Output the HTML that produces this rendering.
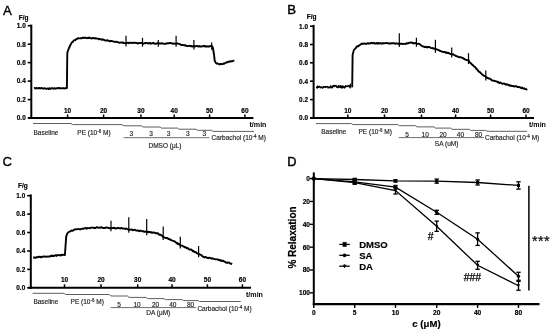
<!DOCTYPE html>
<html><head><meta charset="utf-8"><style>
html,body{margin:0;padding:0;background:#fff;}
svg{display:block;will-change:transform;}
text{font-family:"Liberation Sans", sans-serif;}
</style></head><body>
<svg width="550" height="331" viewBox="0 0 550 331">
<rect width="550" height="331" fill="#fff"/>
<text x="2.9" y="14.8" font-size="13.2" font-weight="normal" text-anchor="start" fill="#000" stroke="#000" stroke-width="0.35">A</text>
<text x="18.7" y="20.4" font-size="6.5" font-weight="bold" text-anchor="start" fill="#000" stroke="#000" stroke-width="0.18">F/g</text>
<line x1="31.3" y1="24.6" x2="31.3" y2="119" stroke="#000" stroke-width="2" stroke-linecap="butt"/>
<line x1="27.7" y1="25.7" x2="31.3" y2="25.7" stroke="#000" stroke-width="1.6" stroke-linecap="butt"/>
<text x="25.7" y="28" font-size="6.4" font-weight="bold" text-anchor="end" fill="#000" stroke="#000" stroke-width="0.18">1.0</text>
<line x1="27.7" y1="44.2" x2="31.3" y2="44.2" stroke="#000" stroke-width="1.6" stroke-linecap="butt"/>
<text x="25.7" y="46.5" font-size="6.4" font-weight="bold" text-anchor="end" fill="#000" stroke="#000" stroke-width="0.18">0.8</text>
<line x1="27.7" y1="62.6" x2="31.3" y2="62.6" stroke="#000" stroke-width="1.6" stroke-linecap="butt"/>
<text x="25.7" y="64.9" font-size="6.4" font-weight="bold" text-anchor="end" fill="#000" stroke="#000" stroke-width="0.18">0.6</text>
<line x1="27.7" y1="81.1" x2="31.3" y2="81.1" stroke="#000" stroke-width="1.6" stroke-linecap="butt"/>
<text x="25.7" y="83.4" font-size="6.4" font-weight="bold" text-anchor="end" fill="#000" stroke="#000" stroke-width="0.18">0.4</text>
<line x1="27.7" y1="99.6" x2="31.3" y2="99.6" stroke="#000" stroke-width="1.6" stroke-linecap="butt"/>
<text x="25.7" y="101.9" font-size="6.4" font-weight="bold" text-anchor="end" fill="#000" stroke="#000" stroke-width="0.18">0.2</text>
<line x1="27.7" y1="118" x2="31.3" y2="118" stroke="#000" stroke-width="1.6" stroke-linecap="butt"/>
<text x="25.7" y="120.3" font-size="6.4" font-weight="bold" text-anchor="end" fill="#000" stroke="#000" stroke-width="0.18">0.0</text>
<line x1="28.2" y1="118" x2="253.4" y2="118" stroke="#000" stroke-width="2" stroke-linecap="butt"/>
<line x1="67.6" y1="114.5" x2="67.6" y2="118" stroke="#000" stroke-width="1.5" stroke-linecap="butt"/>
<text x="67.6" y="112.5" font-size="6.5" font-weight="bold" text-anchor="middle" fill="#000" stroke="#000" stroke-width="0.18">10</text>
<line x1="103.6" y1="114.5" x2="103.6" y2="118" stroke="#000" stroke-width="1.5" stroke-linecap="butt"/>
<text x="103.6" y="112.5" font-size="6.5" font-weight="bold" text-anchor="middle" fill="#000" stroke="#000" stroke-width="0.18">20</text>
<line x1="140.9" y1="114.5" x2="140.9" y2="118" stroke="#000" stroke-width="1.5" stroke-linecap="butt"/>
<text x="140.9" y="112.5" font-size="6.5" font-weight="bold" text-anchor="middle" fill="#000" stroke="#000" stroke-width="0.18">30</text>
<line x1="174.2" y1="114.5" x2="174.2" y2="118" stroke="#000" stroke-width="1.5" stroke-linecap="butt"/>
<text x="174.2" y="112.5" font-size="6.5" font-weight="bold" text-anchor="middle" fill="#000" stroke="#000" stroke-width="0.18">40</text>
<line x1="209.6" y1="114.5" x2="209.6" y2="118" stroke="#000" stroke-width="1.5" stroke-linecap="butt"/>
<text x="209.6" y="112.5" font-size="6.5" font-weight="bold" text-anchor="middle" fill="#000" stroke="#000" stroke-width="0.18">50</text>
<line x1="244.9" y1="114.5" x2="244.9" y2="118" stroke="#000" stroke-width="1.5" stroke-linecap="butt"/>
<text x="244.9" y="112.5" font-size="6.5" font-weight="bold" text-anchor="middle" fill="#000" stroke="#000" stroke-width="0.18">60</text>
<text x="249.5" y="127" font-size="7.1" font-weight="bold" text-anchor="start" fill="#000" >t/min</text>
<polyline points="34,88.14 34.73,88 35.45,88.46 36.18,87.96 36.91,88.39 37.64,88.25 38.36,87.98 39.09,88.4 39.82,87.99 40.55,88.36 41.27,88.05 42,88.08 42.73,88.4 43.45,88.77 44.18,88.15 44.91,88.26 45.64,88.63 46.36,88.93 47.09,88.61 47.82,88.47 48.55,89 49.27,88.18 50,88.92 50.71,88.39 51.43,88.24 52.14,88.19 52.86,88.34 53.57,88.78 54.29,88.18 55,88.52 55.71,88.55 56.43,88.29 57.14,88.43 57.86,87.97 58.57,87.95 59.29,88.06 60,88.46 60.72,88.22 61.44,88.11 62.17,88.34 62.89,88.21 63.61,88.06 64.33,88.5 65.06,88.4 65.78,87.98 66.5,88.2 66.9,87.9 67.3,53 67.8,51.27 69,48.02 70.3,45.24 71.05,43.96 71.8,42.41 72.75,42.13 73.7,40.46 74.63,40.19 75.57,39.96 76.5,38.89 77.43,38.86 78.37,38.12 79.3,38.35 80.07,38.35 80.83,38.1 81.6,38.29 82.37,37.7 83.13,37.96 83.9,37.78 84.72,37.79 85.54,37.7 86.36,38.07 87.18,38.18 88,37.78 88.7,37.99 89.4,37.49 90.1,38.11 90.8,38.1 91.5,38.46 92.2,38.35 92.9,37.91 93.63,38.13 94.36,38.51 95.09,38.06 95.81,38.58 96.54,38.44 97.27,38.53 98,38.6 98.78,39.35 99.55,38.89 100.33,39.11 101.1,39.35 101.88,39.9 102.65,39.3 103.42,39.74 104.2,39.94 104.92,40.38 105.65,40.46 106.38,40.64 107.1,40.25 107.83,40.51 108.55,40.6 109.28,41.21 110,41.41 110.8,40.83 111.6,40.99 112.4,41.19 113.2,41.33 114,41.7 114.8,41.94 115.6,41.79 116.33,41.62 117.07,42.06 117.8,42.08 118.53,42.33 119.27,42.74 120,42.57 120.75,42.49 121.5,42.66 122.25,42.78 123,42.3 123.75,43.13 124.5,43.1 125.25,43.26 126,43.27 126.73,42.92 127.45,42.94 128.18,42.68 128.91,43.18 129.64,42.67 130.36,42.69 131.09,42.83 131.82,42.81 132.55,42.98 133.27,42.73 134,42.7 134.73,42.85 135.45,42.82 136.18,43.07 136.91,42.78 137.64,43.56 138.36,43.33 139.09,42.93 139.82,43.04 140.55,43.14 141.27,43.16 142,42.96 142.73,43.62 143.45,43.75 144.18,43.28 144.91,43.3 145.64,42.95 146.36,42.97 147.09,43.19 147.82,43.12 148.55,43.64 149.27,43.04 150,42.92 150.73,43.76 151.45,43.38 152.18,43.05 152.91,43.41 153.64,42.95 154.36,43.4 155.09,43.81 155.82,43.71 156.55,43.57 157.27,43.18 158,43.28 158.72,43.1 159.44,43.64 160.16,43.43 160.88,43.65 161.6,43.25 162.32,43.15 163.04,43.68 163.76,43.84 164.48,43.72 165.2,43.68 165.92,43.69 166.64,43.62 167.36,43.15 168.08,43.42 168.8,43.27 169.52,42.98 170.24,42.98 170.96,43.2 171.68,43.18 172.4,43.57 173.12,43.81 173.84,43.35 174.56,43.79 175.28,43.84 176,43.81 176.75,43.45 177.5,43.5 178.25,43.68 179,43.83 179.75,44.01 180.5,44.56 181.25,44.99 182,45.11 182.75,44.92 183.5,45.21 184.25,45.48 185,44.98 185.75,45.63 186.5,45.99 187.25,46.02 188,46.13 188.75,45.92 189.5,45.69 190.25,46.27 191,45.9 191.75,46.36 192.5,46.55 193.25,46.07 194,46.11 194.7,46.61 195.41,46.41 196.11,45.91 196.82,45.88 197.52,45.91 198.22,46.59 198.93,46.5 199.63,45.91 200.33,46.53 201.04,46.67 201.74,46.38 202.45,46.11 203.15,46.29 203.85,45.92 204.56,45.82 205.26,46.69 205.97,46.4 206.67,46.29 207.37,46.66 208.08,46.22 208.78,46.62 209.48,46.58 210.19,46.03 210.89,46.07 211.6,46.11 212.3,46.3 212.9,48 214.1,55 214.7,60.8 215.8,62.87 216.55,63.45 217.3,63.43 218.05,63.85 218.8,63.87 219.6,64.52 220.4,63.97 221.2,64.01 222,64.08 222.72,64.15 223.43,63.5 224.15,63.73 224.87,63.13 225.58,62.95 226.3,62.72 227.04,62.05 227.78,62.21 228.52,61.75 229.26,61.37 230,61.87 230.73,61.14 231.47,61.24 232.2,61.3 232.93,60.98 233.67,60.61 234.4,60.6" fill="none" stroke="#000" stroke-width="1.9" stroke-linejoin="round"/>
<line x1="126" y1="46.4" x2="126" y2="35.8" stroke="#000" stroke-width="1.2" stroke-linecap="butt"/>
<line x1="142.5" y1="46.7" x2="142.5" y2="37.8" stroke="#000" stroke-width="1.2" stroke-linecap="butt"/>
<line x1="158.3" y1="46.8" x2="158.3" y2="39.9" stroke="#000" stroke-width="1.2" stroke-linecap="butt"/>
<line x1="176.1" y1="46.82" x2="176.1" y2="35.8" stroke="#000" stroke-width="1.2" stroke-linecap="butt"/>
<line x1="193.9" y1="49.59" x2="193.9" y2="39.9" stroke="#000" stroke-width="1.2" stroke-linecap="butt"/>
<line x1="211.7" y1="49.7" x2="211.7" y2="42.4" stroke="#000" stroke-width="1.2" stroke-linecap="butt"/>
<polyline points="33,123.5 71,123.5 72.5,124.6 122,124.6 124,125.8 141.5,125.8 143,127 160,127 161.5,128.1 177.5,128.1 179,129.2 196,129.2 197.5,130.3 211.5,130.3 213,131.4 254,131.4" fill="none" stroke="#5e5e5e" stroke-width="1.0" stroke-linejoin="miter"/>
<line x1="123.6" y1="137.7" x2="209.3" y2="137.7" stroke="#5e5e5e" stroke-width="0.9" stroke-linecap="butt"/>
<text x="33.5" y="134.6" font-size="6.5" font-weight="normal" text-anchor="start" fill="#222" stroke="#222" stroke-width="0.15">Baseline</text>
<text x="77.3" y="134.6" font-size="6.5" fill="#222" text-anchor="start" stroke="#222" stroke-width="0.15">PE (10<tspan font-size="4.55" dy="-2.0">-6</tspan><tspan dy="2.0"> M)</tspan></text>
<text x="131.2" y="135.5" font-size="6.5" font-weight="normal" text-anchor="middle" fill="#222" stroke="#222" stroke-width="0.15">3</text>
<text x="151" y="135.5" font-size="6.5" font-weight="normal" text-anchor="middle" fill="#222" stroke="#222" stroke-width="0.15">3</text>
<text x="168.5" y="135.5" font-size="6.5" font-weight="normal" text-anchor="middle" fill="#222" stroke="#222" stroke-width="0.15">3</text>
<text x="187.9" y="135.5" font-size="6.5" font-weight="normal" text-anchor="middle" fill="#222" stroke="#222" stroke-width="0.15">3</text>
<text x="204.3" y="135.5" font-size="6.5" font-weight="normal" text-anchor="middle" fill="#222" stroke="#222" stroke-width="0.15">3</text>
<text x="165" y="147.7" font-size="6.5" font-weight="normal" text-anchor="middle" fill="#222" stroke="#222" stroke-width="0.15">DMSO (&#956;L)</text>
<text x="211.6" y="140.1" font-size="6.5" fill="#222" text-anchor="start" stroke="#222" stroke-width="0.15">Carbachol (10<tspan font-size="4.55" dy="-2.0">-4</tspan><tspan dy="2.0"> M)</tspan></text>
<text x="287.3" y="14" font-size="13.2" font-weight="normal" text-anchor="start" fill="#000" stroke="#000" stroke-width="0.45">B</text>
<text x="306.8" y="19.4" font-size="6.5" font-weight="bold" text-anchor="start" fill="#000" stroke="#000" stroke-width="0.18">F/g</text>
<line x1="313.6" y1="24.9" x2="313.6" y2="119" stroke="#000" stroke-width="2" stroke-linecap="butt"/>
<line x1="310" y1="26.2" x2="313.6" y2="26.2" stroke="#000" stroke-width="1.6" stroke-linecap="butt"/>
<text x="308" y="28.5" font-size="6.4" font-weight="bold" text-anchor="end" fill="#000" stroke="#000" stroke-width="0.18">1.0</text>
<line x1="310" y1="44.5" x2="313.6" y2="44.5" stroke="#000" stroke-width="1.6" stroke-linecap="butt"/>
<text x="308" y="46.8" font-size="6.4" font-weight="bold" text-anchor="end" fill="#000" stroke="#000" stroke-width="0.18">0.8</text>
<line x1="310" y1="62.8" x2="313.6" y2="62.8" stroke="#000" stroke-width="1.6" stroke-linecap="butt"/>
<text x="308" y="65.1" font-size="6.4" font-weight="bold" text-anchor="end" fill="#000" stroke="#000" stroke-width="0.18">0.6</text>
<line x1="310" y1="81.2" x2="313.6" y2="81.2" stroke="#000" stroke-width="1.6" stroke-linecap="butt"/>
<text x="308" y="83.5" font-size="6.4" font-weight="bold" text-anchor="end" fill="#000" stroke="#000" stroke-width="0.18">0.4</text>
<line x1="310" y1="99.6" x2="313.6" y2="99.6" stroke="#000" stroke-width="1.6" stroke-linecap="butt"/>
<text x="308" y="101.9" font-size="6.4" font-weight="bold" text-anchor="end" fill="#000" stroke="#000" stroke-width="0.18">0.2</text>
<line x1="310" y1="118" x2="313.6" y2="118" stroke="#000" stroke-width="1.6" stroke-linecap="butt"/>
<text x="308" y="120.3" font-size="6.4" font-weight="bold" text-anchor="end" fill="#000" stroke="#000" stroke-width="0.18">0.0</text>
<line x1="310" y1="118" x2="534" y2="118" stroke="#000" stroke-width="2" stroke-linecap="butt"/>
<line x1="347.8" y1="114.5" x2="347.8" y2="118" stroke="#000" stroke-width="1.5" stroke-linecap="butt"/>
<text x="347.8" y="112.5" font-size="6.5" font-weight="bold" text-anchor="middle" fill="#000" stroke="#000" stroke-width="0.18">10</text>
<line x1="384.5" y1="114.5" x2="384.5" y2="118" stroke="#000" stroke-width="1.5" stroke-linecap="butt"/>
<text x="384.5" y="112.5" font-size="6.5" font-weight="bold" text-anchor="middle" fill="#000" stroke="#000" stroke-width="0.18">20</text>
<line x1="421.5" y1="114.5" x2="421.5" y2="118" stroke="#000" stroke-width="1.5" stroke-linecap="butt"/>
<text x="421.5" y="112.5" font-size="6.5" font-weight="bold" text-anchor="middle" fill="#000" stroke="#000" stroke-width="0.18">30</text>
<line x1="455.6" y1="114.5" x2="455.6" y2="118" stroke="#000" stroke-width="1.5" stroke-linecap="butt"/>
<text x="455.6" y="112.5" font-size="6.5" font-weight="bold" text-anchor="middle" fill="#000" stroke="#000" stroke-width="0.18">40</text>
<line x1="490.6" y1="114.5" x2="490.6" y2="118" stroke="#000" stroke-width="1.5" stroke-linecap="butt"/>
<text x="490.6" y="112.5" font-size="6.5" font-weight="bold" text-anchor="middle" fill="#000" stroke="#000" stroke-width="0.18">50</text>
<line x1="526" y1="114.5" x2="526" y2="118" stroke="#000" stroke-width="1.5" stroke-linecap="butt"/>
<text x="526" y="112.5" font-size="6.5" font-weight="bold" text-anchor="middle" fill="#000" stroke="#000" stroke-width="0.18">60</text>
<text x="529" y="127" font-size="7.1" font-weight="bold" text-anchor="start" fill="#000" >t/min</text>
<polyline points="316,87.25 316.61,87.32 317.22,87.89 317.83,86.1 318.43,87.25 319.04,86.42 319.65,86.46 320.26,87.73 320.87,87.01 321.48,87.13 322.09,87.62 322.7,87.99 323.3,86.74 323.91,87.15 324.52,86.85 325.13,86.84 325.74,87.28 326.35,86.63 326.96,86.82 327.57,86.65 328.17,87.83 328.78,87.17 329.39,87.61 330,87.75 330.6,85.97 331.2,86.75 331.8,87.75 332.4,87.48 333,85.66 333.6,85.62 334.2,86.45 334.8,85.49 335.4,85.93 336,85.49 336.6,87.04 337.2,87.34 337.8,87.63 338.4,85.7 339,87.16 339.6,87.02 340.2,85.67 340.8,87.6 341.4,87.82 342,85.87 342.6,87.78 343.2,86.34 343.8,86.57 344.4,87.87 345,87.46 345.65,85.7 346.3,86.38 346.95,86.58 347.6,86.1 348.25,85.71 348.9,86.01 349.55,87.04 350.2,85.19 350.85,86.56 351.5,86.4" fill="none" stroke="#000" stroke-width="1.5" stroke-linejoin="round"/>
<line x1="350.3" y1="88.5" x2="350.3" y2="83.5" stroke="#000" stroke-width="1.0" stroke-linecap="butt"/>
<polyline points="351.5,86.9 352.2,86.5 352.6,54.95 353.9,49.87 354.77,49.08 355.63,48.28 356.5,47.11 357.33,46.07 358.17,46.27 359,45.46 359.8,45.3 360.6,44.19 361.4,44.01 362.2,43.49 362.95,44.09 363.71,43.57 364.46,43.38 365.22,43.58 365.97,43.95 366.73,43.81 367.48,43.24 368.24,43.08 368.99,43.7 369.75,43.33 370.5,43.38 371.21,42.84 371.91,42.82 372.62,43.4 373.32,43.18 374.03,42.87 374.73,43.66 375.44,43.4 376.14,43.56 376.85,42.93 377.56,43.63 378.26,42.93 378.97,43.66 379.67,43.3 380.38,43.21 381.08,43.41 381.79,43.76 382.49,43.18 383.2,43.07 383.91,43.44 384.61,43.19 385.32,43.08 386.02,43.14 386.73,43.05 387.43,43.2 388.14,43.31 388.84,43.31 389.55,43.73 390.26,43.32 390.96,43.52 391.67,43.24 392.37,43.41 393.08,43.12 393.78,43.34 394.49,43.14 395.19,43.8 395.9,43.65 396.75,43.32 397.6,43.58 398.45,43.99 399.3,43.25 400.1,43.94 400.9,43.64 401.7,43.75 402.5,44.1 403.3,43.75 404.1,43.91 404.87,43.9 405.64,43.99 406.41,43.24 407.19,43.51 407.96,43.23 408.73,42.99 409.5,42.61 410.27,42.68 411.03,42.53 411.8,42.72 412.57,42.78 413.33,43.5 414.1,43.18 414.93,43.1 415.77,43.03 416.6,43.71 417.6,43.83 418.6,43.75 419.34,43.96 420.08,44.49 420.82,45.09 421.56,45.8 422.3,46.09 423.02,46.45 423.74,46.39 424.46,47.12 425.18,47.23 425.9,46.94 426.62,46.77 427.34,47.52 428.06,47.03 428.78,47.17 429.5,46.95 430.21,47.52 430.93,47.83 431.64,48.08 432.35,48.03 433.06,48.53 433.77,48.3 434.49,48.76 435.2,48.83 435.96,49.37 436.71,49.3 437.47,49.54 438.23,50.05 438.99,50.25 439.74,50.82 440.5,51.03 441.25,51.43 441.99,51.54 442.74,51.79 443.49,52.14 444.23,51.9 444.98,52.04 445.73,52.84 446.47,52.28 447.22,53 447.97,53.13 448.71,52.79 449.46,53.7 450.21,53.95 450.95,53.91 451.7,54.21 452.45,54.57 453.21,54.26 453.96,54.89 454.72,55.17 455.47,55.76 456.23,56.02 456.98,56.33 457.74,56.4 458.49,56.97 459.25,57.07 460,57.37 460.72,57.25 461.43,57.36 462.15,57.74 462.87,58.24 463.58,58.3 464.3,59.25 465.02,59.29 465.73,59.65 466.45,59.94 467.17,60.28 467.88,60.4 468.6,60.25 469.4,61.9 470.2,62.79 471,63.5 471.7,64.19 472.4,64.96 473.1,65.09 473.8,66.35 474.5,66.58 475.2,67.16 475.9,68.07 476.6,69.23 477.3,69.49 478,70.72 478.85,71.73 479.7,72.09 480.55,72.79 481.4,73.68 482.13,74.43 482.87,75.07 483.6,75.51 484.33,76.1 485.07,76.15 485.8,76.78 486.55,77.25 487.3,78.07 488.05,78.05 488.8,78.66 489.55,78.54 490.3,78.95 491.05,79.52 491.8,80.25 492.52,80.5 493.23,80.71 493.95,80.59 494.67,81.01 495.38,81.19 496.1,81.42 496.82,81.33 497.53,82.25 498.25,81.85 498.97,82.78 499.68,82.97 500.4,82.37 501.12,82.96 501.85,83.49 502.57,83.82 503.3,83.55 504.02,83.59 504.75,83.74 505.48,84.6 506.2,84.14 506.93,84.67 507.65,84.48 508.38,85.02 509.1,85.61 509.82,85.02 510.53,85.79 511.25,85.66 511.97,86.15 512.68,86.13 513.4,85.86 514.12,86.61 514.83,86.39 515.55,86.12 516.27,86.25 516.98,86.84 517.7,86.96 518.45,87 519.19,87.03 519.94,87.39 520.68,87.54 521.43,88.19 522.18,87.61 522.92,88.46 523.67,88.72 524.42,88.25 525.16,89.15 525.91,89.14 526.65,89.48 527.4,89.3" fill="none" stroke="#000" stroke-width="1.9" stroke-linejoin="round"/>
<line x1="399.3" y1="47" x2="399.3" y2="33.2" stroke="#000" stroke-width="1.2" stroke-linecap="butt"/>
<line x1="416.4" y1="46.8" x2="416.4" y2="37.8" stroke="#000" stroke-width="1.2" stroke-linecap="butt"/>
<line x1="435.4" y1="52.67" x2="435.4" y2="39.8" stroke="#000" stroke-width="1.2" stroke-linecap="butt"/>
<line x1="451.7" y1="57.4" x2="451.7" y2="47.5" stroke="#000" stroke-width="1.2" stroke-linecap="butt"/>
<line x1="468.5" y1="64.06" x2="468.5" y2="53.2" stroke="#000" stroke-width="1.2" stroke-linecap="butt"/>
<line x1="485.8" y1="80.5" x2="485.8" y2="70.6" stroke="#000" stroke-width="1.2" stroke-linecap="butt"/>
<polyline points="316,123.6 351.5,123.6 353,124.6 397.8,124.6 399.5,125.7 415.7,125.7 417,126.9 434,126.9 435.5,128.1 450.5,128.1 452,129.3 469.3,129.3 470.8,130.4 485.5,130.4 487,131.3 527,131.3" fill="none" stroke="#5e5e5e" stroke-width="1.0" stroke-linejoin="miter"/>
<line x1="398.8" y1="137.6" x2="484" y2="137.6" stroke="#5e5e5e" stroke-width="0.9" stroke-linecap="butt"/>
<text x="321.2" y="134.4" font-size="6.5" font-weight="normal" text-anchor="start" fill="#222" stroke="#222" stroke-width="0.15">Baseline</text>
<text x="358.5" y="134.4" font-size="6.5" fill="#222" text-anchor="start" stroke="#222" stroke-width="0.15">PE (10<tspan font-size="4.55" dy="-2.0">-6</tspan><tspan dy="2.0"> M)</tspan></text>
<text x="407.1" y="137" font-size="6.5" font-weight="normal" text-anchor="middle" fill="#222" stroke="#222" stroke-width="0.15">5</text>
<text x="425.2" y="137" font-size="6.5" font-weight="normal" text-anchor="middle" fill="#222" stroke="#222" stroke-width="0.15">10</text>
<text x="443" y="137" font-size="6.5" font-weight="normal" text-anchor="middle" fill="#222" stroke="#222" stroke-width="0.15">20</text>
<text x="460.4" y="137" font-size="6.5" font-weight="normal" text-anchor="middle" fill="#222" stroke="#222" stroke-width="0.15">40</text>
<text x="478.5" y="137" font-size="6.5" font-weight="normal" text-anchor="middle" fill="#222" stroke="#222" stroke-width="0.15">80</text>
<text x="446.6" y="145.6" font-size="6.5" font-weight="normal" text-anchor="middle" fill="#222" stroke="#222" stroke-width="0.15">SA (uM)</text>
<text x="485" y="139.8" font-size="6.5" fill="#222" text-anchor="start" stroke="#222" stroke-width="0.15">Carbachol (10<tspan font-size="4.55" dy="-2.0">-4</tspan><tspan dy="2.0"> M)</tspan></text>
<text x="2.6" y="165.7" font-size="13.2" font-weight="normal" text-anchor="start" fill="#000" stroke="#000" stroke-width="0.35">C</text>
<text x="18.1" y="188.4" font-size="6.5" font-weight="bold" text-anchor="start" fill="#000" stroke="#000" stroke-width="0.18">F/g</text>
<line x1="30.8" y1="194.4" x2="30.8" y2="288.8" stroke="#000" stroke-width="2" stroke-linecap="butt"/>
<line x1="27.2" y1="195.7" x2="30.8" y2="195.7" stroke="#000" stroke-width="1.6" stroke-linecap="butt"/>
<text x="25.2" y="198" font-size="6.4" font-weight="bold" text-anchor="end" fill="#000" stroke="#000" stroke-width="0.18">1.0</text>
<line x1="27.2" y1="214.1" x2="30.8" y2="214.1" stroke="#000" stroke-width="1.6" stroke-linecap="butt"/>
<text x="25.2" y="216.4" font-size="6.4" font-weight="bold" text-anchor="end" fill="#000" stroke="#000" stroke-width="0.18">0.8</text>
<line x1="27.2" y1="232.5" x2="30.8" y2="232.5" stroke="#000" stroke-width="1.6" stroke-linecap="butt"/>
<text x="25.2" y="234.8" font-size="6.4" font-weight="bold" text-anchor="end" fill="#000" stroke="#000" stroke-width="0.18">0.6</text>
<line x1="27.2" y1="251" x2="30.8" y2="251" stroke="#000" stroke-width="1.6" stroke-linecap="butt"/>
<text x="25.2" y="253.3" font-size="6.4" font-weight="bold" text-anchor="end" fill="#000" stroke="#000" stroke-width="0.18">0.4</text>
<line x1="27.2" y1="269.4" x2="30.8" y2="269.4" stroke="#000" stroke-width="1.6" stroke-linecap="butt"/>
<text x="25.2" y="271.7" font-size="6.4" font-weight="bold" text-anchor="end" fill="#000" stroke="#000" stroke-width="0.18">0.2</text>
<line x1="27.2" y1="287.8" x2="30.8" y2="287.8" stroke="#000" stroke-width="1.6" stroke-linecap="butt"/>
<text x="25.2" y="290.1" font-size="6.4" font-weight="bold" text-anchor="end" fill="#000" stroke="#000" stroke-width="0.18">0.0</text>
<line x1="28.4" y1="287.8" x2="251" y2="287.8" stroke="#000" stroke-width="2" stroke-linecap="butt"/>
<line x1="64.5" y1="284.3" x2="64.5" y2="287.8" stroke="#000" stroke-width="1.5" stroke-linecap="butt"/>
<text x="64.5" y="282.2" font-size="6.5" font-weight="bold" text-anchor="middle" fill="#000" stroke="#000" stroke-width="0.18">10</text>
<line x1="101" y1="284.3" x2="101" y2="287.8" stroke="#000" stroke-width="1.5" stroke-linecap="butt"/>
<text x="101" y="282.2" font-size="6.5" font-weight="bold" text-anchor="middle" fill="#000" stroke="#000" stroke-width="0.18">20</text>
<line x1="137.7" y1="284.3" x2="137.7" y2="287.8" stroke="#000" stroke-width="1.5" stroke-linecap="butt"/>
<text x="137.7" y="282.2" font-size="6.5" font-weight="bold" text-anchor="middle" fill="#000" stroke="#000" stroke-width="0.18">30</text>
<line x1="172" y1="284.3" x2="172" y2="287.8" stroke="#000" stroke-width="1.5" stroke-linecap="butt"/>
<text x="172" y="282.2" font-size="6.5" font-weight="bold" text-anchor="middle" fill="#000" stroke="#000" stroke-width="0.18">40</text>
<line x1="207.4" y1="284.3" x2="207.4" y2="287.8" stroke="#000" stroke-width="1.5" stroke-linecap="butt"/>
<text x="207.4" y="282.2" font-size="6.5" font-weight="bold" text-anchor="middle" fill="#000" stroke="#000" stroke-width="0.18">50</text>
<line x1="242.4" y1="284.3" x2="242.4" y2="287.8" stroke="#000" stroke-width="1.5" stroke-linecap="butt"/>
<text x="242.4" y="282.2" font-size="6.5" font-weight="bold" text-anchor="middle" fill="#000" stroke="#000" stroke-width="0.18">60</text>
<text x="246" y="297" font-size="7.1" font-weight="bold" text-anchor="start" fill="#000" >t/min</text>
<polyline points="33.1,257.51 33.81,257.52 34.52,257.47 35.23,257.95 35.94,257.51 36.65,257.24 37.36,257.24 38.07,257.03 38.78,256.76 39.49,256.74 40.2,257.33 40.9,256.77 41.61,257.29 42.32,256.61 43.03,256.56 43.74,256.71 44.45,256.35 45.16,256.45 45.87,256.91 46.58,256.78 47.29,256.65 48,256.42 48.71,256.6 49.42,256.56 50.13,256.14 50.84,256.22 51.55,255.55 52.25,256.1 52.96,255.78 53.67,255.98 54.38,255.82 55.09,255.43 55.8,255.14 56.51,255.87 57.22,255.08 57.93,255.32 58.64,255.14 59.35,255.03 60.05,255.36 60.76,255.5 61.47,254.79 62.18,255.08 62.89,254.69 63.6,254.85 64.9,255 65.6,245 66.2,236.4 67.5,233.1 68.33,232.36 69.17,231.67 70,231.57 70.76,230.94 71.52,230.43 72.28,230.79 73.04,230.61 73.8,229.85 74.5,229.48 75.2,229.44 75.9,229.26 76.6,229.39 77.3,229.08 78,229.12 78.7,229.05 79.4,229.24 80.1,229.43 80.8,229.22 81.5,228.82 82.26,228.73 83.02,228.74 83.78,228.52 84.54,228.39 85.3,228.06 86.06,228.16 86.82,228.69 87.58,227.84 88.34,228.09 89.1,228.12 89.84,228.28 90.58,227.66 91.32,227.67 92.07,227.61 92.81,227.7 93.55,227.7 94.29,228.12 95.03,227.98 95.78,227.96 96.52,227.15 97.26,227.12 98,227.69 98.85,227.88 99.7,227.53 100.55,227.65 101.4,227.15 102.14,227.53 102.88,228.03 103.62,227.97 104.37,228.02 105.11,228.15 105.85,227.52 106.59,227.42 107.33,227.49 108.08,227.85 108.82,228.01 109.56,228.27 110.3,228.1 111.01,228.06 111.72,228.2 112.44,227.96 113.15,228.07 113.86,227.64 114.58,228.34 115.29,227.88 116,228.53 116.71,228.31 117.42,228.04 118.14,227.91 118.85,228.05 119.56,228.43 120.28,228.52 120.99,228.02 121.7,228.01 122.45,228.52 123.21,228.67 123.96,228.6 124.72,228.55 125.47,228.99 126.23,228.56 126.98,228.92 127.74,229.16 128.49,229.71 129.25,229.53 130,229.85 130.71,229.58 131.41,229.46 132.12,229.57 132.82,230.31 133.53,230.18 134.24,229.93 134.94,229.77 135.65,230.3 136.35,230.56 137.06,230.43 137.76,230.38 138.47,230.85 139.18,231.18 139.88,230.65 140.59,230.58 141.29,230.95 142,231.13 142.74,231.45 143.49,231.1 144.23,231.72 144.97,231.76 145.71,231.63 146.46,231.45 147.2,232.22 147.9,231.73 148.6,232.29 149.3,231.86 150,231.95 150.7,232.53 151.4,232.22 152.1,232.91 152.8,232.6 153.5,232.42 154.2,232.55 154.9,232.83 155.6,233.15 156.3,233.5 157,232.88 157.75,233.52 158.5,233.77 159.25,234.86 160,234.53 160.75,234.86 161.5,235.28 162.25,235.99 163,236.86 163.79,237.17 164.57,237.37 165.36,237.93 166.14,238.2 166.93,237.99 167.71,238.19 168.5,239.19 169.29,239.41 170.07,239.15 170.86,240.11 171.64,240.23 172.43,240.62 173.21,240.96 174,241.2 174.7,241.44 175.4,242.08 176.1,242.53 176.8,243.47 177.5,243.11 178.2,244.25 178.9,243.96 179.6,244.48 180.3,245.29 181.03,245.62 181.75,245.61 182.48,245.59 183.2,246.31 183.93,246.55 184.65,247.38 185.38,247.06 186.1,247.54 186.82,248.36 187.55,247.91 188.28,248.59 189,249.28 189.74,249.61 190.48,249.33 191.22,249.69 191.95,250.08 192.69,251.22 193.43,251 194.17,251.81 194.91,252.31 195.65,252.18 196.38,252.49 197.12,253.47 197.86,253.54 198.6,253.59 199.34,254.42 200.07,254.48 200.81,254.87 201.55,255.05 202.29,256.16 203.03,256.72 203.76,256.9 204.5,257.6 205.24,256.89 205.97,257.19 206.71,257.52 207.44,258.07 208.18,258.18 208.91,257.78 209.65,257.78 210.39,258.05 211.12,258.22 211.86,258.73 212.59,258.17 213.33,258.84 214.06,258.9 214.8,259.09 215.53,259.26 216.25,259.33 216.98,259.3 217.7,259.5 218.43,259.76 219.15,260.35 219.88,259.94 220.6,260.26 221.32,260.98 222.05,260.74 222.78,260.79 223.5,260.98 224.22,261.66 224.95,261.68 225.68,262.48 226.4,262.61 227.12,262.92 227.85,262.49 228.57,262.54 229.3,262.77 230.02,263.35 230.75,263.76 231.47,263.74 232.2,264" fill="none" stroke="#000" stroke-width="1.9" stroke-linejoin="round"/>
<line x1="111" y1="231.33" x2="111" y2="220.8" stroke="#000" stroke-width="1.2" stroke-linecap="butt"/>
<line x1="128.8" y1="232.74" x2="128.8" y2="217.2" stroke="#000" stroke-width="1.2" stroke-linecap="butt"/>
<line x1="146.7" y1="235.14" x2="146.7" y2="219" stroke="#000" stroke-width="1.2" stroke-linecap="butt"/>
<line x1="163.2" y1="239.98" x2="163.2" y2="226.6" stroke="#000" stroke-width="1.2" stroke-linecap="butt"/>
<line x1="180.3" y1="248.4" x2="180.3" y2="236.7" stroke="#000" stroke-width="1.2" stroke-linecap="butt"/>
<line x1="198.6" y1="257.2" x2="198.6" y2="246" stroke="#000" stroke-width="1.2" stroke-linecap="butt"/>
<polyline points="32.6,293.3 64,293.3 65.5,294.5 109.4,294.5 111,296 127.4,296 129,297.4 146,297.4 147.5,298.6 164,298.6 165.5,299.6 182,299.6 183.5,300.6 198,300.6 199.5,301.5 240.7,301.5" fill="none" stroke="#5e5e5e" stroke-width="1.0" stroke-linejoin="miter"/>
<line x1="110.6" y1="307.6" x2="196" y2="307.6" stroke="#5e5e5e" stroke-width="0.9" stroke-linecap="butt"/>
<text x="33.4" y="304.3" font-size="6.5" font-weight="normal" text-anchor="start" fill="#222" stroke="#222" stroke-width="0.15">Baseline</text>
<text x="70.6" y="304.3" font-size="6.5" fill="#222" text-anchor="start" stroke="#222" stroke-width="0.15">PE (10<tspan font-size="4.55" dy="-2.0">-6</tspan><tspan dy="2.0"> M)</tspan></text>
<text x="119" y="306.6" font-size="6.5" font-weight="normal" text-anchor="middle" fill="#222" stroke="#222" stroke-width="0.15">5</text>
<text x="137.1" y="306.6" font-size="6.5" font-weight="normal" text-anchor="middle" fill="#222" stroke="#222" stroke-width="0.15">10</text>
<text x="155.5" y="306.6" font-size="6.5" font-weight="normal" text-anchor="middle" fill="#222" stroke="#222" stroke-width="0.15">20</text>
<text x="172.8" y="306.6" font-size="6.5" font-weight="normal" text-anchor="middle" fill="#222" stroke="#222" stroke-width="0.15">40</text>
<text x="190.5" y="306.6" font-size="6.5" font-weight="normal" text-anchor="middle" fill="#222" stroke="#222" stroke-width="0.15">80</text>
<text x="158.3" y="315.2" font-size="6.5" font-weight="normal" text-anchor="middle" fill="#222" stroke="#222" stroke-width="0.15">DA (&#956;M)</text>
<text x="197.4" y="310.5" font-size="6.5" fill="#222" text-anchor="start" stroke="#222" stroke-width="0.15">Carbachol (10<tspan font-size="4.55" dy="-2.0">-4</tspan><tspan dy="2.0"> M)</tspan></text>
<text x="287.2" y="165.7" font-size="12.8" font-weight="normal" text-anchor="start" fill="#000" stroke="#000" stroke-width="0.45">D</text>
<line x1="313.8" y1="172.4" x2="313.8" y2="305.2" stroke="#000" stroke-width="2" stroke-linecap="butt"/>
<line x1="312.8" y1="304.2" x2="539.5" y2="304.2" stroke="#000" stroke-width="2.2" stroke-linecap="butt"/>
<line x1="309.8" y1="178.6" x2="313.8" y2="178.6" stroke="#000" stroke-width="1.4" stroke-linecap="butt"/>
<text x="310" y="181" font-size="6.6" font-weight="bold" text-anchor="end" fill="#000" stroke="#000" stroke-width="0.18">0</text>
<line x1="309.8" y1="201.45" x2="313.8" y2="201.45" stroke="#000" stroke-width="1.4" stroke-linecap="butt"/>
<text x="310" y="203.85" font-size="6.6" font-weight="bold" text-anchor="end" fill="#000" stroke="#000" stroke-width="0.18">20</text>
<line x1="309.8" y1="224.3" x2="313.8" y2="224.3" stroke="#000" stroke-width="1.4" stroke-linecap="butt"/>
<text x="310" y="226.7" font-size="6.6" font-weight="bold" text-anchor="end" fill="#000" stroke="#000" stroke-width="0.18">40</text>
<line x1="309.8" y1="247.15" x2="313.8" y2="247.15" stroke="#000" stroke-width="1.4" stroke-linecap="butt"/>
<text x="310" y="249.55" font-size="6.6" font-weight="bold" text-anchor="end" fill="#000" stroke="#000" stroke-width="0.18">60</text>
<line x1="309.8" y1="270" x2="313.8" y2="270" stroke="#000" stroke-width="1.4" stroke-linecap="butt"/>
<text x="310" y="272.4" font-size="6.6" font-weight="bold" text-anchor="end" fill="#000" stroke="#000" stroke-width="0.18">80</text>
<line x1="309.8" y1="292.85" x2="313.8" y2="292.85" stroke="#000" stroke-width="1.4" stroke-linecap="butt"/>
<text x="310" y="295.25" font-size="6.6" font-weight="bold" text-anchor="end" fill="#000" stroke="#000" stroke-width="0.18">100</text>
<line x1="313.8" y1="304.2" x2="313.8" y2="307.9" stroke="#000" stroke-width="1.4" stroke-linecap="butt"/>
<text x="313.8" y="315.3" font-size="6.6" font-weight="bold" text-anchor="middle" fill="#000" stroke="#000" stroke-width="0.18">0</text>
<line x1="354.7" y1="304.2" x2="354.7" y2="307.9" stroke="#000" stroke-width="1.4" stroke-linecap="butt"/>
<text x="354.7" y="315.3" font-size="6.6" font-weight="bold" text-anchor="middle" fill="#000" stroke="#000" stroke-width="0.18">5</text>
<line x1="395.5" y1="304.2" x2="395.5" y2="307.9" stroke="#000" stroke-width="1.4" stroke-linecap="butt"/>
<text x="395.5" y="315.3" font-size="6.6" font-weight="bold" text-anchor="middle" fill="#000" stroke="#000" stroke-width="0.18">10</text>
<line x1="436.7" y1="304.2" x2="436.7" y2="307.9" stroke="#000" stroke-width="1.4" stroke-linecap="butt"/>
<text x="436.7" y="315.3" font-size="6.6" font-weight="bold" text-anchor="middle" fill="#000" stroke="#000" stroke-width="0.18">20</text>
<line x1="477.6" y1="304.2" x2="477.6" y2="307.9" stroke="#000" stroke-width="1.4" stroke-linecap="butt"/>
<text x="477.6" y="315.3" font-size="6.6" font-weight="bold" text-anchor="middle" fill="#000" stroke="#000" stroke-width="0.18">40</text>
<line x1="518.5" y1="304.2" x2="518.5" y2="307.9" stroke="#000" stroke-width="1.4" stroke-linecap="butt"/>
<text x="518.5" y="315.3" font-size="6.6" font-weight="bold" text-anchor="middle" fill="#000" stroke="#000" stroke-width="0.18">80</text>
<text x="426.5" y="327.4" font-size="9.6" font-weight="bold" text-anchor="middle" fill="#000" stroke="#000" stroke-width="0.18">c (&#956;M)</text>
<text transform="translate(295.8,237.5) rotate(-90) scale(1,1.1)" font-size="10" font-weight="bold" text-anchor="middle" stroke="#000" stroke-width="0.2">% Relaxation</text>
<polyline points="313.8,178.6 354.7,179.51 395.5,180.88 436.7,181.11 477.6,182.48 518.5,185.45" fill="none" stroke="#000" stroke-width="1.3" stroke-linejoin="miter"/>
<polyline points="313.8,178.6 354.7,181.8 395.5,187.17 436.7,212.3 477.6,239.15 518.5,276.28" fill="none" stroke="#000" stroke-width="1.3" stroke-linejoin="miter"/>
<polyline points="313.8,178.6 354.7,182.6 395.5,190.6 436.7,226.24 477.6,265.32 518.5,285.77" fill="none" stroke="#000" stroke-width="1.3" stroke-linejoin="miter"/>
<line x1="354.7" y1="178.37" x2="354.7" y2="180.66" stroke="#000" stroke-width="1.3" stroke-linecap="butt"/>
<line x1="352.5" y1="178.37" x2="356.9" y2="178.37" stroke="#000" stroke-width="1.3" stroke-linecap="butt"/>
<line x1="352.5" y1="180.66" x2="356.9" y2="180.66" stroke="#000" stroke-width="1.3" stroke-linecap="butt"/>
<line x1="395.5" y1="179.74" x2="395.5" y2="182.03" stroke="#000" stroke-width="1.3" stroke-linecap="butt"/>
<line x1="393.3" y1="179.74" x2="397.7" y2="179.74" stroke="#000" stroke-width="1.3" stroke-linecap="butt"/>
<line x1="393.3" y1="182.03" x2="397.7" y2="182.03" stroke="#000" stroke-width="1.3" stroke-linecap="butt"/>
<line x1="436.7" y1="179.06" x2="436.7" y2="183.17" stroke="#000" stroke-width="1.3" stroke-linecap="butt"/>
<line x1="434.5" y1="179.06" x2="438.9" y2="179.06" stroke="#000" stroke-width="1.3" stroke-linecap="butt"/>
<line x1="434.5" y1="183.17" x2="438.9" y2="183.17" stroke="#000" stroke-width="1.3" stroke-linecap="butt"/>
<line x1="477.6" y1="179.97" x2="477.6" y2="185" stroke="#000" stroke-width="1.3" stroke-linecap="butt"/>
<line x1="475.4" y1="179.97" x2="479.8" y2="179.97" stroke="#000" stroke-width="1.3" stroke-linecap="butt"/>
<line x1="475.4" y1="185" x2="479.8" y2="185" stroke="#000" stroke-width="1.3" stroke-linecap="butt"/>
<line x1="518.5" y1="181.8" x2="518.5" y2="189.11" stroke="#000" stroke-width="1.3" stroke-linecap="butt"/>
<line x1="516.3" y1="181.8" x2="520.7" y2="181.8" stroke="#000" stroke-width="1.3" stroke-linecap="butt"/>
<line x1="516.3" y1="189.11" x2="520.7" y2="189.11" stroke="#000" stroke-width="1.3" stroke-linecap="butt"/>
<line x1="354.7" y1="180.09" x2="354.7" y2="183.51" stroke="#000" stroke-width="1.3" stroke-linecap="butt"/>
<line x1="352.5" y1="180.09" x2="356.9" y2="180.09" stroke="#000" stroke-width="1.3" stroke-linecap="butt"/>
<line x1="352.5" y1="183.51" x2="356.9" y2="183.51" stroke="#000" stroke-width="1.3" stroke-linecap="butt"/>
<line x1="395.5" y1="185.45" x2="395.5" y2="188.88" stroke="#000" stroke-width="1.3" stroke-linecap="butt"/>
<line x1="393.3" y1="185.45" x2="397.7" y2="185.45" stroke="#000" stroke-width="1.3" stroke-linecap="butt"/>
<line x1="393.3" y1="188.88" x2="397.7" y2="188.88" stroke="#000" stroke-width="1.3" stroke-linecap="butt"/>
<line x1="436.7" y1="210.25" x2="436.7" y2="214.36" stroke="#000" stroke-width="1.3" stroke-linecap="butt"/>
<line x1="434.5" y1="210.25" x2="438.9" y2="210.25" stroke="#000" stroke-width="1.3" stroke-linecap="butt"/>
<line x1="434.5" y1="214.36" x2="438.9" y2="214.36" stroke="#000" stroke-width="1.3" stroke-linecap="butt"/>
<line x1="477.6" y1="232.87" x2="477.6" y2="245.44" stroke="#000" stroke-width="1.3" stroke-linecap="butt"/>
<line x1="475.4" y1="232.87" x2="479.8" y2="232.87" stroke="#000" stroke-width="1.3" stroke-linecap="butt"/>
<line x1="475.4" y1="245.44" x2="479.8" y2="245.44" stroke="#000" stroke-width="1.3" stroke-linecap="butt"/>
<line x1="518.5" y1="272.28" x2="518.5" y2="280.28" stroke="#000" stroke-width="1.3" stroke-linecap="butt"/>
<line x1="516.3" y1="272.28" x2="520.7" y2="272.28" stroke="#000" stroke-width="1.3" stroke-linecap="butt"/>
<line x1="516.3" y1="280.28" x2="520.7" y2="280.28" stroke="#000" stroke-width="1.3" stroke-linecap="butt"/>
<line x1="354.7" y1="180.88" x2="354.7" y2="184.31" stroke="#000" stroke-width="1.3" stroke-linecap="butt"/>
<line x1="352.5" y1="180.88" x2="356.9" y2="180.88" stroke="#000" stroke-width="1.3" stroke-linecap="butt"/>
<line x1="352.5" y1="184.31" x2="356.9" y2="184.31" stroke="#000" stroke-width="1.3" stroke-linecap="butt"/>
<line x1="395.5" y1="187.17" x2="395.5" y2="194.02" stroke="#000" stroke-width="1.3" stroke-linecap="butt"/>
<line x1="393.3" y1="187.17" x2="397.7" y2="187.17" stroke="#000" stroke-width="1.3" stroke-linecap="butt"/>
<line x1="393.3" y1="194.02" x2="397.7" y2="194.02" stroke="#000" stroke-width="1.3" stroke-linecap="butt"/>
<line x1="436.7" y1="221.1" x2="436.7" y2="231.38" stroke="#000" stroke-width="1.3" stroke-linecap="butt"/>
<line x1="434.5" y1="221.1" x2="438.9" y2="221.1" stroke="#000" stroke-width="1.3" stroke-linecap="butt"/>
<line x1="434.5" y1="231.38" x2="438.9" y2="231.38" stroke="#000" stroke-width="1.3" stroke-linecap="butt"/>
<line x1="477.6" y1="261.32" x2="477.6" y2="269.31" stroke="#000" stroke-width="1.3" stroke-linecap="butt"/>
<line x1="475.4" y1="261.32" x2="479.8" y2="261.32" stroke="#000" stroke-width="1.3" stroke-linecap="butt"/>
<line x1="475.4" y1="269.31" x2="479.8" y2="269.31" stroke="#000" stroke-width="1.3" stroke-linecap="butt"/>
<line x1="518.5" y1="281.31" x2="518.5" y2="290.22" stroke="#000" stroke-width="1.3" stroke-linecap="butt"/>
<line x1="516.3" y1="281.31" x2="520.7" y2="281.31" stroke="#000" stroke-width="1.3" stroke-linecap="butt"/>
<line x1="516.3" y1="290.22" x2="520.7" y2="290.22" stroke="#000" stroke-width="1.3" stroke-linecap="butt"/>
<rect x="312.3" y="177.1" width="3.0" height="3.0" fill="#000"/>
<rect x="353.2" y="178.01" width="3.0" height="3.0" fill="#000"/>
<rect x="394" y="179.38" width="3.0" height="3.0" fill="#000"/>
<rect x="435.2" y="179.61" width="3.0" height="3.0" fill="#000"/>
<rect x="476.1" y="180.98" width="3.0" height="3.0" fill="#000"/>
<rect x="517" y="183.95" width="3.0" height="3.0" fill="#000"/>
<rect x="311.8" y="176.6" width="4" height="4" fill="#000" transform="rotate(45 313.8 178.6)"/>
<circle cx="313.8" cy="178.6" r="1.6" fill="#000"/>
<circle cx="354.7" cy="181.8" r="1.6" fill="#000"/>
<circle cx="395.5" cy="187.17" r="1.6" fill="#000"/>
<circle cx="436.7" cy="212.3" r="1.6" fill="#000"/>
<circle cx="477.6" cy="239.15" r="1.6" fill="#000"/>
<circle cx="518.5" cy="276.28" r="1.6" fill="#000"/>
<polygon points="312.2,177.32 315.4,177.32 313.8,180.2" fill="#000"/>
<polygon points="353.1,181.32 356.3,181.32 354.7,184.2" fill="#000"/>
<polygon points="393.9,189.32 397.1,189.32 395.5,192.2" fill="#000"/>
<polygon points="435.1,224.96 438.3,224.96 436.7,227.84" fill="#000"/>
<polygon points="476,264.04 479.2,264.04 477.6,266.92" fill="#000"/>
<polygon points="516.9,284.49 520.1,284.49 518.5,287.37" fill="#000"/>
<line x1="339.3" y1="244.4" x2="349.8" y2="244.4" stroke="#000" stroke-width="1.3" stroke-linecap="butt"/>
<rect x="342.7" y="242.5" width="3.8" height="3.8" fill="#000"/>
<line x1="342.6" y1="242.4" x2="346.6" y2="242.4" stroke="#000" stroke-width="0.8" stroke-linecap="butt"/>
<line x1="342.6" y1="246.4" x2="346.6" y2="246.4" stroke="#000" stroke-width="0.8" stroke-linecap="butt"/>
<line x1="339.3" y1="255.3" x2="349.8" y2="255.3" stroke="#000" stroke-width="1.3" stroke-linecap="butt"/>
<circle cx="344.6" cy="255.3" r="1.9" fill="#000"/>
<line x1="339.3" y1="266.2" x2="349.8" y2="266.2" stroke="#000" stroke-width="1.3" stroke-linecap="butt"/>
<polygon points="342.8,264.76 346.4,264.76 344.6,268" fill="#000"/>
<line x1="344.6" y1="264.4" x2="344.6" y2="268" stroke="#000" stroke-width="1.0" stroke-linecap="butt"/>
<text x="359.2" y="248.1" font-size="9.5" font-weight="bold" text-anchor="start" fill="#000" stroke="#000" stroke-width="0.18">DMSO</text>
<text x="359.2" y="258.9" font-size="9.5" font-weight="bold" text-anchor="start" fill="#000" stroke="#000" stroke-width="0.18">SA</text>
<text x="359.2" y="269.9" font-size="9.5" font-weight="bold" text-anchor="start" fill="#000" stroke="#000" stroke-width="0.18">DA</text>
<text x="430.6" y="240.2" font-size="10.4" font-weight="normal" text-anchor="middle" fill="#000" stroke="#000" stroke-width="0.25">#</text>
<text x="472.3" y="280.6" font-size="10.4" font-weight="normal" text-anchor="middle" fill="#000" stroke="#000" stroke-width="0.25">###</text>
<line x1="528.9" y1="185.8" x2="528.9" y2="290.4" stroke="#000" stroke-width="1.5" stroke-linecap="butt"/>
<text x="532" y="245.7" font-size="14.4" font-weight="normal" text-anchor="start" fill="#000" letter-spacing="0.45" stroke="#000" stroke-width="0.2">***</text>
</svg>
</body></html>
